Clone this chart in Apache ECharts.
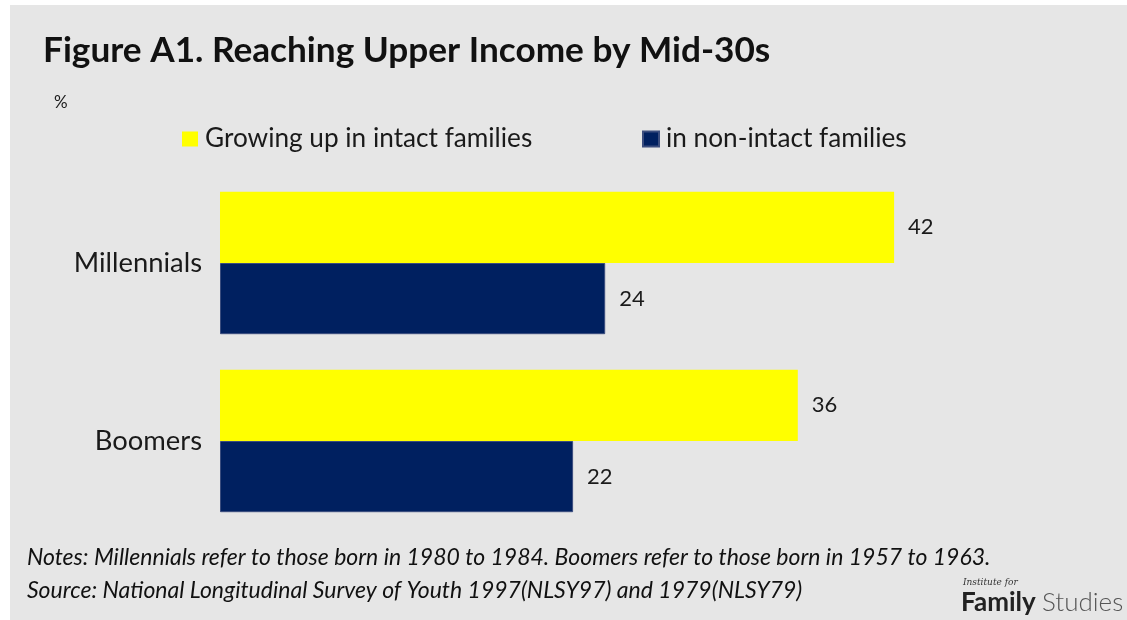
<!DOCTYPE html>
<html>
<head>
<meta charset="utf-8">
<script src="https://cdn.jsdelivr.net/npm/echarts@6/dist/echarts.min.js"></script>
<style>
  html, body { margin: 0; padding: 0; background: #ffffff; }
  #chart { width: 1127px; height: 620px; }
</style>
</head>
<body>
<div id="chart"></div>
<script>
// Generations shown on the category axis (top to bottom)
const generations = ['Millennials', 'Boomers'];
// Share reaching upper income by mid-30s, %
const intactValues = [42, 36];
const nonIntactValues = [24, 22];
const seriesNames = ['Growing up in intact families', 'in non-intact families'];

const FONT = 'Lato, "Open Sans", sans-serif';
const chart = echarts.init(document.getElementById('chart'));

const legendText = { fontFamily: FONT, fontSize: 26.2, color: '#1a1a1a', padding: [0, 0, 0, 2] };
const valueLabel = { show: true, position: 'right', distance: 14, fontFamily: FONT, fontSize: 22, color: '#1a1a1a' };

chart.setOption({
  backgroundColor: '#ffffff',
  animation: false,
  title: {
    text: 'Figure A1. Reaching Upper Income by Mid-30s',
    left: 38,
    top: 28,
    textStyle: { fontFamily: FONT, fontSize: 35.2, fontWeight: 'bold', color: '#111111' }
  },
  legend: [
    {
      top: 121, left: 177, itemWidth: 16, itemHeight: 15, icon: 'rect',
      textStyle: legendText, data: [seriesNames[0]]
    },
    {
      top: 121, left: 637, itemWidth: 16, itemHeight: 15, icon: 'rect',
      textStyle: legendText, data: [seriesNames[1]]
    }
  ],
  grid: { left: 220, top: 174, width: 802.5, height: 356, containLabel: false },
  xAxis: {
    type: 'value',
    min: 0,
    max: 50,
    show: false
  },
  yAxis: {
    type: 'category',
    inverse: true,
    data: generations,
    axisLine: { show: false },
    axisTick: { show: false },
    axisLabel: { fontFamily: FONT, fontSize: 27.4, color: '#1a1a1a', margin: 18 }
  },
  series: [
    {
      name: seriesNames[0],
      type: 'bar',
      data: intactValues,
      barGap: '0%',
      barCategoryGap: '20%',
      itemStyle: { color: '#ffff00' },
      label: valueLabel
    },
    {
      name: seriesNames[1],
      type: 'bar',
      data: nonIntactValues,
      barGap: '0%',
      barCategoryGap: '20%',
      itemStyle: { color: '#002060', borderColor: '#3b4d7e', borderWidth: 1 },
      label: valueLabel
    }
  ],
  graphic: [
    { type: 'rect', z: -10, shape: { x: 10, y: 5, width: 1117, height: 615 }, style: { fill: '#e6e6e6' } },
    { type: 'text', x: 54, y: 103, style: { text: '%', font: '17px ' + FONT, fill: '#1a1a1a', textVerticalAlign: 'middle' } },
    { type: 'text', x: 27, y: 558, style: { text: 'Notes: Millennials refer to those born in 1980 to 1984. Boomers refer to those born in 1957 to 1963.', font: 'italic 23px ' + FONT, fill: '#111111', textVerticalAlign: 'middle' } },
    { type: 'text', x: 27, y: 591, style: { text: 'Source: National Longitudinal Survey of Youth 1997(NLSY97) and 1979(NLSY79)', font: 'italic 23px ' + FONT, fill: '#111111', textVerticalAlign: 'middle' } },
    { type: 'text', x: 963, y: 583, style: { text: 'Institute for', font: 'italic 9px "DejaVu Serif", serif', fill: '#333333', textVerticalAlign: 'middle' } },
    { type: 'text', x: 961, y: 603, style: { text: 'Family', font: 'bold 26px ' + FONT, fill: '#222222', textVerticalAlign: 'middle' } },
    { type: 'text', x: 1042, y: 603, style: { text: 'Studies', font: '300 26px ' + FONT, fill: '#555555', textVerticalAlign: 'middle' } }
  ]
});
</script>
</body>
</html>
